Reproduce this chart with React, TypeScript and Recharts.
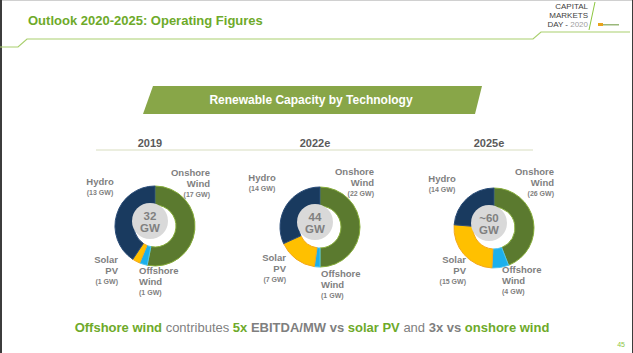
import { Cell, Pie, PieChart } from "recharts";

const technologies = ["Onshore Wind", "Offshore Wind", "Solar PV", "Hydro"];
const years = ["2019", "2022e", "2025e"];
const capacity2019 = [17, 1, 1, 13];
const capacity2022 = [22, 1, 7, 14];
const capacity2025 = [26, 4, 15, 14];
const totals = ["32", "44", "~60"];

const series = [capacity2019, capacity2022, capacity2025];

const fills = ["#5B7A2F", "#1CB0EC", "#FFC000", "#193A5F"];
const strokes = ["#86ad3a", "#4fc2ef", "#f4a81c", "#2b4d78"];

const GREEN = "#6EAA2A";
const GRAY = "#7F7F7F";
const FONT = "'Liberation Sans', Arial, sans-serif";

// donut centres and label anchors (layout only)
const centers = [
  { cx: 150, cy: 221 },
  { cx: 315, cy: 222 },
  { cx: 489, cy: 223 },
];
const labelPos = [
  [
    { x: 210, y: 176, anchor: "end" },
    { x: 139, y: 274, anchor: "start" },
    { x: 118, y: 263, anchor: "end" },
    { x: 100, y: 185, anchor: "middle" },
  ],
  [
    { x: 374, y: 175, anchor: "end" },
    { x: 321, y: 277, anchor: "start" },
    { x: 286, y: 261, anchor: "end" },
    { x: 262, y: 181, anchor: "middle" },
  ],
  [
    { x: 554, y: 175, anchor: "end" },
    { x: 502, y: 273, anchor: "start" },
    { x: 466, y: 263, anchor: "end" },
    { x: 442, y: 182, anchor: "middle" },
  ],
];

const Label = ({ name, value, x, y, anchor }: any) => {
  const lines = name === "Hydro" ? ["Hydro"] : name.split(" ");
  return (
    <text x={x} y={y} textAnchor={anchor} fontFamily={FONT} fill={GRAY}>
      {lines.map((l: string, i: number) => (
        <tspan key={l} x={x} dy={i === 0 ? 0 : 11} fontSize={9.5} fontWeight="bold">
          {l}
        </tspan>
      ))}
      <tspan x={x} dy={10} fontSize={7} fontWeight="bold">
        ({value} GW)
      </tspan>
    </text>
  );
};

const App = () => {
  return (
    <div
      style={{
        position: "fixed",
        left: 0,
        top: 0,
        width: 633,
        height: 353,
        background: "#fff",
        fontFamily: FONT,
      }}
    >
      <svg width={633} height={353} style={{ position: "absolute", left: 0, top: 0 }}>
        <rect x={0} y={0} width={633} height={1} fill="#d0d0d0" />
        <rect x={0} y={0} width={2} height={353} fill="#3c3c3c" />
        <rect x={632} y={0} width={1} height={353} fill="#3c3c3c" />
        <text x={28} y={25} fontSize={13} fontWeight="bold" fill={GREEN} fontFamily={FONT}>
          Outlook 2020-2025: Operating Figures
        </text>
        <polyline
          points="0,47 18,47 27,39 533,39 541,32 630,32"
          fill="none"
          stroke="#a9cf6e"
          strokeWidth={1.2}
        />
        <text textAnchor="end" fontFamily="'Liberation Sans Narrow', Arial, sans-serif" fontSize={8} fill="#404040">
          <tspan x={588} y={9}>CAPITAL</tspan>
          <tspan x={588} y={18}>MARKETS</tspan>
          <tspan x={588} y={27}>
            DAY - <tspan fill="#a0a0a0">2020</tspan>
          </tspan>
        </text>
        <line x1={595} y1={2} x2={589} y2={30} stroke="#8cc63f" strokeWidth={1} />
        <rect x={598} y={23} width={5} height={3} fill="#e9a21c" />
        <rect x={603} y={24} width={16} height={1.5} fill="#9ab87a" />

        <polygon points="153,86 482,86 475,114 143,114" fill="#88A648" />
        <text x={311} y={104} textAnchor="middle" fontSize={12} fontWeight="bold" fill="#fff" fontFamily={FONT}>
          Renewable Capacity by Technology
        </text>

        <line x1={96} y1={150} x2={533} y2={150} stroke="#d8ddbf" strokeWidth={1} />
        {years.map((y, i) => (
          <text
            key={y}
            x={centers[i].cx}
            y={147}
            textAnchor="middle"
            fontSize={11}
            fontWeight="bold"
            fill="#5a5a5a"
            fontFamily={FONT}
          >
            {y}
          </text>
        ))}

        <text x={312} y={332} textAnchor="middle" fontSize={13} fontWeight="bold" fontFamily={FONT} fill={GRAY}>
          <tspan fill={GREEN}>Offshore wind</tspan>
          <tspan fontWeight="normal"> contributes </tspan>
          <tspan fill={GREEN}>5x</tspan>
          <tspan> EBITDA/MW vs </tspan>
          <tspan fill={GREEN}>solar PV</tspan>
          <tspan fontWeight="normal"> and </tspan>
          <tspan>3x vs </tspan>
          <tspan fill={GREEN}>onshore wind</tspan>
        </text>
        <text x={625} y={347} textAnchor="end" fontSize={7} fill="#8cc63f" fontFamily={FONT}>
          45
        </text>
      </svg>

      <div style={{ position: "absolute", left: 0, top: 0 }}>
        <PieChart width={633} height={353}>
          {series.map((values, i) => (
            <Pie
              key={years[i]}
              data={technologies.map((name, k) => ({ name, value: values[k] }))}
              dataKey="value"
              nameKey="name"
              cx={centers[i].cx}
              cy={centers[i].cy}
              innerRadius={21}
              outerRadius={40}
              startAngle={90}
              endAngle={-270}
              isAnimationActive={false}
            >
              {technologies.map((t, k) => (
                <Cell key={t} fill={fills[k]} stroke={strokes[k]} strokeWidth={1} />
              ))}
            </Pie>
          ))}
        </PieChart>
      </div>

      <svg width={633} height={353} style={{ position: "absolute", left: 0, top: 0, pointerEvents: "none" }}>
        {centers.map((c, i) => (
          <g key={years[i]}>
            <circle cx={c.cx} cy={c.cy} r={18} fill="#D9D9D9" />
            <text
              x={c.cx}
              textAnchor="middle"
              fontSize={11.5}
              fontWeight="bold"
              fill="#808080"
              fontFamily={FONT}
            >
              <tspan x={c.cx} y={c.cy - 1}>{totals[i]}</tspan>
              <tspan x={c.cx} y={c.cy + 11}>GW</tspan>
            </text>
            {technologies.map((t, k) => (
              <Label key={t} name={t} value={series[i][k]} {...labelPos[i][k]} />
            ))}
          </g>
        ))}
      </svg>
    </div>
  );
};

export default App;
